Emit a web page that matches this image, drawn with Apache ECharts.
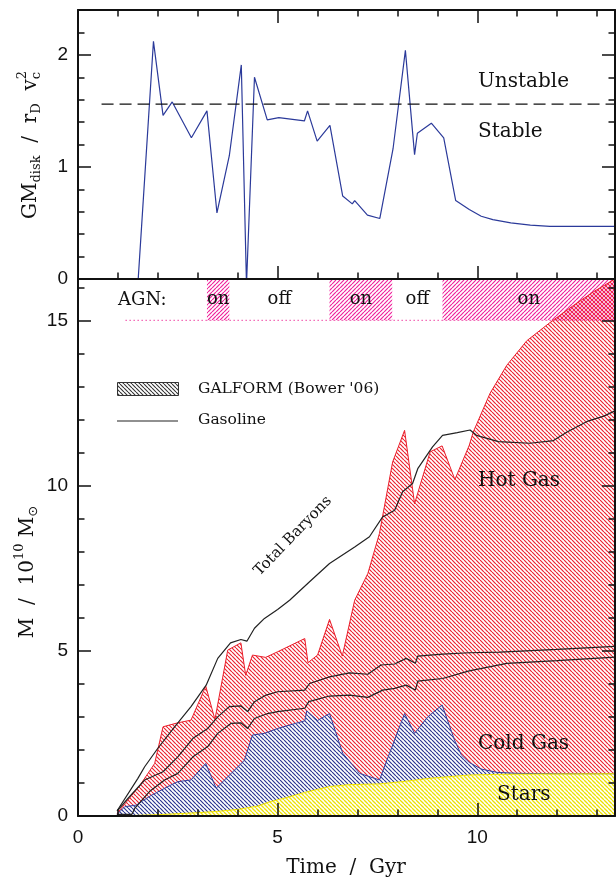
<!DOCTYPE html>
<html><head><meta charset="utf-8">
<script src="https://cdn.jsdelivr.net/npm/echarts@6/dist/echarts.min.js"></script>
<style>html,body{margin:0;padding:0;background:#fff}#c{width:616px;height:884px}</style>
</head><body><div id="c"></div>
<script>
// ---------------- DATA ----------------
const timeMax = 13.45;
const ratioMax = 2.4;
const massMax = 16.25;
const xMajorTicks = [0, 5, 10];
const ratioTickLabels = [0, 1, 2];
const massTickLabels = [0, 5, 10, 15];

// GM_disk / r_D v_c^2 vs time
const diskRatio = [[1.49,-0.1],[1.89,2.12],[2.13,1.46],[2.36,1.58],[2.84,1.26],[3.23,1.50],[3.48,0.59],[3.79,1.10],[4.09,1.91],[4.22,-0.05],[4.42,1.80],[4.74,1.42],[5.03,1.44],[5.67,1.41],[5.75,1.50],[5.99,1.23],[6.31,1.37],[6.63,0.74],[6.87,0.67],[6.93,0.70],[7.25,0.57],[7.56,0.54],[7.89,1.16],[8.20,2.04],[8.43,1.11],[8.50,1.30],[8.85,1.39],[9.16,1.26],[9.46,0.70],[9.80,0.62],[10.10,0.56],[10.39,0.53],[10.84,0.50],[11.33,0.48],[11.82,0.47],[12.31,0.47],[13.45,0.47]];
const stabilityLevel = 1.56;
const stabilityStart = 0.59;

// GALFORM cumulative masses (10^10 Msun)
const galStars = [[0.98,0],[1.5,0.02],[2.0,0.04],[2.5,0.07],[3.0,0.1],[3.5,0.14],[4.0,0.2],[4.5,0.3],[4.8,0.43],[5.2,0.55],[5.7,0.72],[6.3,0.89],[6.8,0.95],[7.55,0.97],[8.2,1.05],[8.8,1.14],[9.8,1.24],[10.5,1.26],[11.5,1.27],[13.45,1.28]];
const galCold = [[0.98,0.05],[1.17,0.28],[1.46,0.33],[1.8,0.6],[2.25,0.89],[2.5,1.04],[2.83,1.09],[3.2,1.59],[3.46,0.84],[3.92,1.39],[4.17,1.69],[4.37,2.45],[4.67,2.5],[5.0,2.65],[5.68,2.88],[5.73,3.18],[6.0,2.89],[6.3,3.1],[6.63,1.9],[7.05,1.29],[7.55,1.09],[8.18,3.1],[8.43,2.5],[8.76,3.0],[9.12,3.36],[9.43,2.3],[9.6,1.85],[9.8,1.62],[10.1,1.42],[10.5,1.32],[11.0,1.29],[12.0,1.28],[13.45,1.28]];
const galHot = [[0.98,0.08],[1.25,0.48],[1.54,0.91],[1.92,1.59],[2.13,2.7],[2.5,2.82],[2.83,2.9],[3.2,3.93],[3.43,2.92],[3.75,5.02],[4.08,5.24],[4.2,4.26],[4.37,4.87],[4.7,4.8],[5.0,4.97],[5.68,5.37],[5.76,4.64],[6.0,4.87],[6.3,5.95],[6.62,4.84],[6.93,6.53],[7.26,7.34],[7.55,8.55],[7.88,10.71],[8.18,11.67],[8.43,9.45],[8.82,11.02],[9.12,11.2],[9.44,10.18],[9.8,11.22],[9.9,11.62],[10.32,12.79],[10.74,13.64],[11.24,14.38],[11.83,14.94],[12.41,15.45],[12.92,15.87],[13.45,16.25]];

// Gasoline curves
const gasTotal = [[0.98,0.16],[1.5,1.14],[1.67,1.49],[2.0,2.05],[2.42,2.70],[2.83,3.31],[3.21,3.96],[3.5,4.77],[3.82,5.24],[4.08,5.34],[4.23,5.29],[4.42,5.68],[4.67,5.98],[5.0,6.25],[5.3,6.53],[5.8,7.09],[6.3,7.64],[6.93,8.14],[7.3,8.45],[7.63,9.05],[7.93,9.25],[8.13,9.81],[8.38,10.06],[8.51,10.51],[8.88,11.17],[9.13,11.52],[9.5,11.6],[9.82,11.68],[9.98,11.52],[10.53,11.33],[11.32,11.28],[11.91,11.36],[12.25,11.62],[12.75,11.94],[13.17,12.1],[13.45,12.26]];
const gasUpper = [[0.98,0.15],[1.25,0.53],[1.67,1.09],[2.13,1.34],[2.5,1.79],[2.88,2.35],[3.25,2.65],[3.5,3.0],[3.79,3.31],[4.08,3.33],[4.25,3.16],[4.42,3.46],[4.71,3.66],[5.0,3.76],[5.68,3.81],[5.8,4.01],[6.3,4.21],[6.8,4.33],[7.26,4.29],[7.59,4.57],[7.93,4.6],[8.22,4.77],[8.45,4.62],[8.51,4.84],[9.13,4.9],[9.8,4.94],[10.57,4.96],[12.0,5.04],[13.45,5.13]];
const gasLower = [[0.98,0.05],[1.35,0.05],[1.42,0.23],[1.79,0.74],[2.17,1.09],[2.5,1.29],[2.88,1.79],[3.25,2.1],[3.5,2.5],[3.83,2.8],[4.08,2.82],[4.25,2.65],[4.42,2.95],[4.75,3.1],[5.0,3.16],[5.68,3.26],[5.78,3.46],[6.3,3.63],[6.8,3.66],[7.26,3.59],[7.63,3.81],[7.93,3.86],[8.22,3.96],[8.45,3.81],[8.51,4.08],[9.13,4.16],[9.8,4.39],[10.74,4.62],[12.0,4.70],[13.45,4.81]];

// AGN phases
const agnOn = [[3.23,3.79],[6.3,7.87],[9.13,13.45]];
const agnOff = [[3.79,6.3],[7.87,9.13]];
const agnBand = [15, 16.25];
const agnDotStart = 1.19;

// ---------------- STYLE HELPERS ----------------
const SERIF = 'DejaVu Serif';
const SANS = 'Liberation Sans';
const mctx = document.createElement('canvas').getContext('2d');
function measure(t, size, fam) { mctx.font = size + 'px "' + (fam || SERIF) + '"'; return mctx.measureText(t).width; }

function hatch(color, dir, bg, size, lw) {
  const c = document.createElement('canvas'); c.width = size; c.height = size;
  const g = c.getContext('2d');
  if (bg) { g.fillStyle = bg; g.fillRect(0, 0, size, size); }
  g.strokeStyle = color; g.lineWidth = lw; g.beginPath();
  for (let k = -1; k <= 1; k++) {
    if (dir === 'down') { g.moveTo(k * size, 0); g.lineTo(k * size + size, size); }
    else { g.moveTo(k * size, size); g.lineTo(k * size + size, 0); }
  }
  g.stroke();
  return { image: c, repeat: 'repeat' };
}
const redPat = hatch('#ec2230', 'down', null, 4, 1.2);
const bluePat = hatch('#2a3690', 'down', '#ffffff', 4, 1.2);
const yellowPat = hatch('#ece000', 'down', '#ffffff', 4, 1.3);
const pinkPat = hatch('#f0229c', 'up', null, 4, 1.2);
const blackPat = hatch('#333333', 'down', '#ffffff', 4, 1.1);

function xAx(grid, pos, interval, len, line, labels) {
  const a = {
    type: 'value', gridIndex: grid, position: pos, min: 0, max: timeMax, interval: interval, z: 10,
    axisLine: { show: line, onZero: false, lineStyle: { color: '#111', width: 2 } },
    axisTick: { show: true, inside: true, length: len, lineStyle: { color: '#111', width: 1.5 } },
    axisLabel: { show: !!labels, margin: 12, fontSize: 19, fontFamily: SANS, color: '#111' },
    splitLine: { show: false }
  };
  if (labels) a.axisLabel.customValues = labels;
  return a;
}
function yAx(grid, pos, max, interval, len, line, labels) {
  const a = {
    type: 'value', gridIndex: grid, position: pos, min: 0, max: max, interval: interval, z: 10,
    axisLine: { show: line, onZero: false, lineStyle: { color: '#111', width: 2 } },
    axisTick: { show: true, inside: true, length: len, lineStyle: { color: '#111', width: 1.5 } },
    axisLabel: { show: !!labels, margin: 10, fontSize: 19, fontFamily: SANS, color: '#111' },
    splitLine: { show: false }
  };
  if (labels) a.axisLabel.customValues = labels;
  return a;
}

function rotTitle(pieces, cx, cy) {
  let x = 0, prevX = 0; const els = [];
  pieces.forEach(p => {
    const px = p.stack ? prevX : x;
    const fam = p.fam || SERIF;
    els.push({ type: 'text', z: 100, x: px, y: p.dy, style: { text: p.t, fontSize: p.size, fontFamily: fam, fill: '#111', textAlign: 'left', align: 'left', textVerticalAlign: 'middle', verticalAlign: 'middle' } });
    const w = measure(p.t, p.size, fam);
    if (!p.stack) { prevX = x; x += w; } else { x = Math.max(x, px + w); }
  });
  els.forEach(e => { e.x -= x / 2; });
  return { type: 'group', z: 100, x: cx, y: cy, rotation: Math.PI / 2, children: els };
}
function txt(t, x, y, size, align, rot) {
  return { type: 'text', z: 100, x: x, y: y, rotation: rot || 0, style: { text: t, fontSize: size, fontFamily: SERIF, fill: '#111', textAlign: align || 'left', align: align || 'left', textVerticalAlign: 'middle', verticalAlign: 'middle' } };
}

const agnAreas = agnOn.map(r => [{ name: 'on', xAxis: r[0], yAxis: agnBand[0], itemStyle: { color: pinkPat } }, { xAxis: r[1], yAxis: agnBand[1] }])
  .concat(agnOff.map(r => [{ name: 'off', xAxis: r[0], yAxis: agnBand[0], itemStyle: { color: 'rgba(0,0,0,0)' } }, { xAxis: r[1], yAxis: agnBand[1] }]));

function lineS(data, color, width, extra) {
  return Object.assign({ type: 'line', xAxisIndex: 4, yAxisIndex: 4, data: data, symbol: 'none', showSymbol: false, clip: true, silent: true,
    lineStyle: { color: color, width: width } }, extra || {});
}

const option = {
  animation: false,
  backgroundColor: '#fff',
  grid: [
    { left: 78, right: 1, top: 10, height: 269 },
    { left: 78, right: 1, top: 279, height: 537 }
  ],
  xAxis: [
    xAx(0, 'bottom', 5, 13, true, null),
    xAx(0, 'bottom', 1, 6.5, false, null),
    xAx(0, 'top', 5, 13, true, null),
    xAx(0, 'top', 1, 6.5, false, null),
    xAx(1, 'bottom', 5, 13, true, xMajorTicks),
    xAx(1, 'bottom', 1, 6.5, false, null)
  ],
  yAxis: [
    yAx(0, 'left', ratioMax, 1, 13, true, ratioTickLabels),
    yAx(0, 'left', ratioMax, 0.2, 6.5, false, null),
    yAx(0, 'right', ratioMax, 1, 13, true, null),
    yAx(0, 'right', ratioMax, 0.2, 6.5, false, null),
    yAx(1, 'left', massMax, 5, 13, true, massTickLabels),
    yAx(1, 'left', massMax, 1, 6.5, false, null),
    yAx(1, 'right', massMax, 5, 13, true, null),
    yAx(1, 'right', massMax, 1, 6.5, false, null)
  ],
  series: [
    lineS(diskRatio, '#2b3a9a', 1.2, { xAxisIndex: 0, yAxisIndex: 0 }),
    lineS([[stabilityStart, stabilityLevel], [timeMax, stabilityLevel]], '#111', 1.2, { xAxisIndex: 0, yAxisIndex: 0, lineStyle: { color: '#111', width: 1.2, type: [12, 6] } }),
    lineS([[agnDotStart, agnBand[0]], [timeMax, agnBand[0]]], '#f050aa', 1.3, {
      lineStyle: { color: '#f050aa', width: 1.3, type: [1.3, 2.7] },
      markArea: { silent: true, label: { show: true, position: 'inside', color: '#111', fontSize: 18, fontFamily: SERIF }, itemStyle: { borderWidth: 0 }, data: agnAreas }
    }),
    lineS(galHot, '#ea1e2a', 1, { areaStyle: { color: redPat, opacity: 1 } }),
    lineS(galCold, '#3442a0', 1, { areaStyle: { color: bluePat, opacity: 1 } }),
    lineS(galStars, '#f2e400', 1, { areaStyle: { color: yellowPat, opacity: 1 } }),
    lineS(gasTotal, '#222', 1.2),
    lineS(gasUpper, '#222', 1.2),
    lineS(gasLower, '#222', 1.2)
  ],
  graphic: [
    rotTitle([
      { t: 'GM', size: 20, dy: 0 }, { t: 'disk', size: 13, dy: 6 },
      { t: '  /  r', size: 20, dy: 0 }, { t: 'D', size: 13, dy: 6 },
      { t: '  v', size: 20, dy: 0 }, { t: 'c', size: 13, dy: 6 }, { t: '2', size: 13, dy: -8, stack: true }
    ], 31, 145),
    rotTitle([
      { t: 'M  /  10', size: 20, dy: 0 }, { t: '10', size: 13, dy: -8 },
      { t: ' M', size: 20, dy: 0 }, { t: '\u2299', size: 13, dy: 6, fam: 'DejaVu Sans' }
    ], 28, 572),
    txt('Time  /  Gyr', 346, 868, 20, 'center'),
    txt('Unstable', 478, 82, 20),
    txt('Stable', 478, 132, 20),
    txt('AGN:', 118, 300, 18),
    txt('Hot Gas', 478, 481, 20),
    txt('Cold Gas', 478, 744, 20),
    txt('Stars', 497, 795, 20),
    txt('Total Baryons', 293, 536, 15, 'center', 46 * Math.PI / 180),
    { type: 'rect', z: 100, shape: { x: 117.5, y: 382.5, width: 61, height: 13 }, style: { fill: blackPat, stroke: '#333', lineWidth: 1 } },
    txt("GALFORM (Bower '06)", 198, 389, 15.5),
    { type: 'line', z: 100, shape: { x1: 117, y1: 421, x2: 178, y2: 421 }, style: { stroke: '#222', lineWidth: 1.2 } },
    txt('Gasoline', 198, 420, 15.5)
  ]
};
const chart = echarts.init(document.getElementById('c'), null, { renderer: 'canvas' });
chart.setOption(option);
</script></body></html>
